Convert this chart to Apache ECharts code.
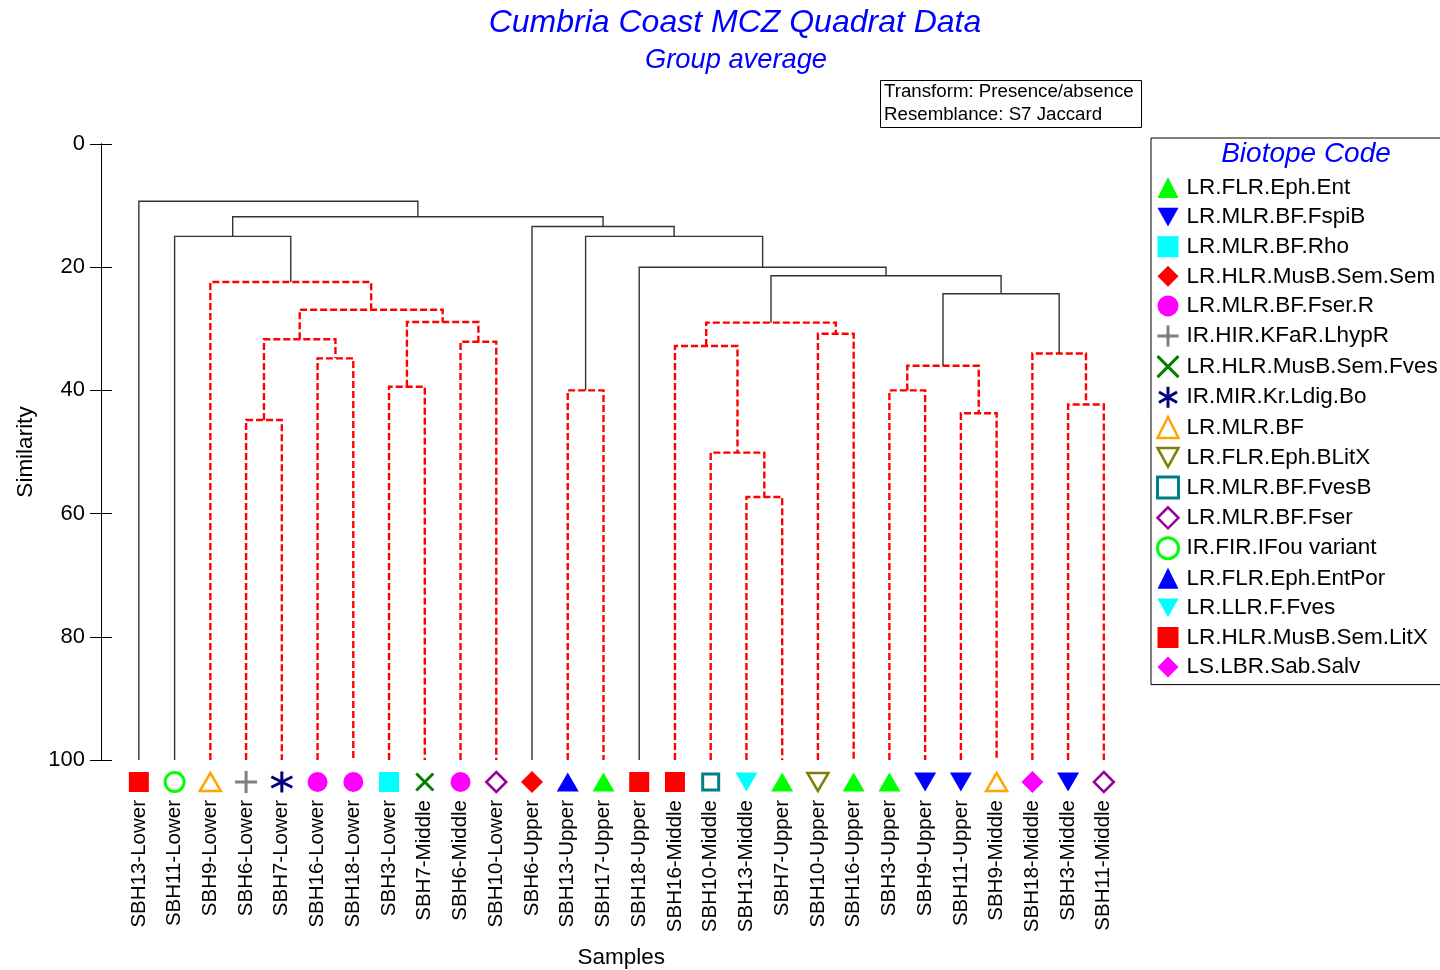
<!DOCTYPE html>
<html>
<head>
<meta charset="utf-8">
<title>Cumbria Coast MCZ Quadrat Data</title>
<script src="https://cdn.jsdelivr.net/npm/echarts@6/dist/echarts.min.js"></script>
<style>
  html, body { margin: 0; padding: 0; background: #fff; }
  #chart { width: 1440px; height: 970px; }
</style>
</head>
<body>
<div id="chart"></div>
<script>
  // samples in dendrogram order, left to right
  const samples = [
    'SBH13-Lower', 'SBH11-Lower', 'SBH9-Lower', 'SBH6-Lower', 'SBH7-Lower', 'SBH16-Lower', 'SBH18-Lower',
    'SBH3-Lower', 'SBH7-Middle', 'SBH6-Middle', 'SBH10-Lower', 'SBH6-Upper', 'SBH13-Upper', 'SBH17-Upper',
    'SBH18-Upper', 'SBH16-Middle', 'SBH10-Middle', 'SBH13-Middle', 'SBH7-Upper', 'SBH10-Upper', 'SBH16-Upper',
    'SBH3-Upper', 'SBH9-Upper', 'SBH11-Upper', 'SBH9-Middle', 'SBH18-Middle', 'SBH3-Middle', 'SBH11-Middle',
  ];

  // biotope code of each sample (same order as samples)
  const sampleBiotope = [
    'LR.HLR.MusB.Sem.LitX', 'IR.FIR.IFou variant', 'LR.MLR.BF', 'IR.HIR.KFaR.LhypR', 'IR.MIR.Kr.Ldig.Bo',
    'LR.MLR.BF.Fser.R', 'LR.MLR.BF.Fser.R', 'LR.MLR.BF.Rho', 'LR.HLR.MusB.Sem.Fves', 'LR.MLR.BF.Fser.R',
    'LR.MLR.BF.Fser', 'LR.HLR.MusB.Sem.Sem', 'LR.FLR.Eph.EntPor', 'LR.FLR.Eph.Ent', 'LR.HLR.MusB.Sem.LitX',
    'LR.HLR.MusB.Sem.LitX', 'LR.MLR.BF.FvesB', 'LR.LLR.F.Fves', 'LR.FLR.Eph.Ent', 'LR.FLR.Eph.BLitX',
    'LR.FLR.Eph.Ent', 'LR.FLR.Eph.Ent', 'LR.MLR.BF.FspiB', 'LR.MLR.BF.FspiB', 'LR.MLR.BF',
    'LS.LBR.Sab.Salv', 'LR.MLR.BF.FspiB', 'LR.MLR.BF.Fser',
  ];

  // legend order
  const biotopes = [
    'LR.FLR.Eph.Ent', 'LR.MLR.BF.FspiB', 'LR.MLR.BF.Rho', 'LR.HLR.MusB.Sem.Sem', 'LR.MLR.BF.Fser.R',
    'IR.HIR.KFaR.LhypR', 'LR.HLR.MusB.Sem.Fves', 'IR.MIR.Kr.Ldig.Bo', 'LR.MLR.BF', 'LR.FLR.Eph.BLitX',
    'LR.MLR.BF.FvesB', 'LR.MLR.BF.Fser', 'IR.FIR.IFou variant', 'LR.FLR.Eph.EntPor', 'LR.LLR.F.Fves',
    'LR.HLR.MusB.Sem.LitX', 'LS.LBR.Sab.Salv',
  ];

  // group average merges, bottom-up. ids 0..27 are samples, merge k gets id 28 + k
  const mergeA = [3, 5, 28, 7, 9, 31, 30, 2, 1, 12, 17, 16, 15, 19, 40, 21, 23, 43, 26, 25, 45, 42, 14, 37, 11, 36, 0];
  const mergeB = [4, 6, 29, 8, 10, 32, 33, 34, 35, 13, 18, 38, 39, 20, 41, 22, 24, 44, 27, 46, 47, 48, 49, 50, 51, 52, 53];
  const mergeSim = [44.8, 34.8, 31.7, 39.4, 32.1, 28.9, 26.9, 22.4, 15.0, 40.0, 57.3, 50.1, 32.8, 30.8, 29.0,
    40.0, 43.7, 36.0, 42.3, 34.0, 24.3, 21.4, 20.0, 15.0, 13.4, 11.8, 9.3];
  // SIMPROF result: 1 = significant (solid black), 0 = not significant (red dashed)
  const mergeSig = [0, 0, 0, 0, 0, 0, 0, 0, 1, 0, 0, 0, 0, 0, 0, 0, 0, 0, 0, 0, 1, 1, 1, 1, 1, 1, 1];

  const FONT = '"Liberation Sans", Arial, sans-serif';
  const downTri = 'path://M0,0 L10,0 L5,9 Z';

  // marker style per biotope
  const biotopeStyle = {
    'LR.FLR.Eph.Ent': { symbol: 'triangle', color: '#00ff00', size: [22, 19] },
    'LR.MLR.BF.FspiB': { symbol: downTri, color: '#0000ff', size: [22, 19] },
    'LR.MLR.BF.Rho': { symbol: 'rect', color: '#00ffff', size: 20 },
    'LR.HLR.MusB.Sem.Sem': { symbol: 'diamond', color: '#ff0000', size: 22 },
    'LR.MLR.BF.Fser.R': { symbol: 'circle', color: '#ff00ff', size: 20 },
    'IR.HIR.KFaR.LhypR': { symbol: 'path://M0,5 L10,5 M5,0 L5,10', color: '#808080', size: 22, open: true, line: 3 },
    'LR.HLR.MusB.Sem.Fves': { symbol: 'path://M0,0 L10,10 M0,10 L10,0', color: '#008000', size: 17, open: true, line: 3 },
    'IR.MIR.Kr.Ldig.Bo': { symbol: 'path://M5,0 L5,10 M0.7,2.5 L9.3,7.5 M0.7,7.5 L9.3,2.5', color: '#000080', size: 21, open: true, line: 3 },
    'LR.MLR.BF': { symbol: 'triangle', color: '#ffa500', size: [21, 18], open: true, line: 2.5 },
    'LR.FLR.Eph.BLitX': { symbol: downTri, color: '#808000', size: [21, 18], open: true, line: 2.5 },
    'LR.MLR.BF.FvesB': { symbol: 'rect', color: '#008080', size: 16, open: true, line: 3 },
    'LR.MLR.BF.Fser': { symbol: 'diamond', color: '#990099', size: 20, open: true, line: 2.5 },
    'IR.FIR.IFou variant': { symbol: 'circle', color: '#00ff00', size: 19, open: true, line: 3 },
    'LR.FLR.Eph.EntPor': { symbol: 'triangle', color: '#0000ff', size: [22, 19] },
    'LR.LLR.F.Fves': { symbol: downTri, color: '#00ffff', size: [22, 19] },
    'LR.HLR.MusB.Sem.LitX': { symbol: 'rect', color: '#ff0000', size: 20 },
    'LS.LBR.Sab.Salv': { symbol: 'diamond', color: '#ff00ff', size: 22 },
  };

  // dendrogram links from the merge table
  const nodeX = samples.map((s, i) => i);
  const nodeH = samples.map(() => 100);
  const solidLinks = [];
  const dashedLinks = [];
  mergeSim.forEach((h, k) => {
    const a = mergeA[k];
    const b = mergeB[k];
    const link = { coords: [[nodeX[a], nodeH[a]], [nodeX[a], h], [nodeX[b], h], [nodeX[b], nodeH[b]]] };
    (mergeSig[k] ? solidLinks : dashedLinks).push(link);
    nodeX.push((nodeX[a] + nodeX[b]) / 2);
    nodeH.push(h);
  });

  const markerSeries = biotopes.map((name) => {
    const st = biotopeStyle[name];
    return {
      type: 'scatter',
      name: name,
      xAxisIndex: 1,
      yAxisIndex: 0,
      clip: false,
      silent: true,
      symbol: st.symbol,
      symbolSize: st.size,
      symbolOffset: [0, 22],
      itemStyle: st.open
        ? { color: '#fff', borderColor: st.color, borderWidth: st.line, opacity: 1 }
        : { color: st.color, opacity: 1 },
      data: samples.map((s, i) => (sampleBiotope[i] === name ? [i, 100] : null)).filter(Boolean),
      z: 5,
    };
  });

  const legendData = biotopes.map((name) => {
    const st = biotopeStyle[name];
    return st.open
      ? { name: name, itemStyle: { borderWidth: st.line, borderColor: st.color, color: '#fff' } }
      : { name: name, itemStyle: { borderWidth: 0, color: st.color } };
  });

  const yAxisBase = {
    type: 'value',
    inverse: true,
    min: 0,
    max: 100,
    interval: 20,
    position: 'left',
    offset: 20,
    splitLine: { show: false },
    axisLine: { show: true, onZero: false, lineStyle: { color: '#000', width: 1 } },
  };

  const option = {
    animation: false,
    backgroundColor: '#fff',
    textStyle: { fontFamily: FONT },
    grid: { left: 121, right: 318.3, top: 144, bottom: 210, outerBoundsMode: 'none' },
    xAxis: [
      {
        type: 'category',
        data: samples,
        position: 'bottom',
        axisLine: { show: false },
        axisTick: { show: false },
        splitLine: { show: false },
        axisLabel: { rotate: 90, interval: 0, margin: 40, fontSize: 20.5, color: '#000', fontFamily: FONT },
        name: 'Samples',
        nameLocation: 'middle',
        nameGap: 186,
        nameTextStyle: { fontSize: 22.5, color: '#000', fontFamily: FONT },
      },
      { type: 'value', min: -0.5, max: 27.5, show: false },
    ],
    yAxis: [
      Object.assign({}, yAxisBase, {
        axisTick: { show: true, length: 11, lineStyle: { color: '#000' } },
        axisLabel: { margin: 16, fontSize: 22, color: '#000', fontFamily: FONT },
        name: 'Similarity',
        nameLocation: 'middle',
        nameRotate: 90,
        nameGap: 62,
        nameTextStyle: { fontSize: 22.5, color: '#000', fontFamily: FONT },
      }),
      Object.assign({}, yAxisBase, {
        axisTick: { show: true, inside: true, length: 11, lineStyle: { color: '#000' } },
        axisLabel: { show: false },
      }),
    ],
    legend: {
      orient: 'vertical',
      left: 1151,
      top: 138,
      padding: [38, 12, 6, 5],
      borderColor: '#000',
      borderWidth: 1,
      itemWidth: 21,
      itemHeight: 21,
      itemGap: 6.6,
      selectedMode: false,
      data: legendData,
      textStyle: { color: '#000', fontSize: 22.5, lineHeight: 22, fontFamily: FONT, padding: [0, 0, 0, 3] },
    },
    graphic: [
      {
        type: 'text', x: 735, y: 23,
        style: { text: 'Cumbria Coast MCZ Quadrat Data', font: 'italic 32px ' + FONT, fill: '#0000ff',
          textAlign: 'center', textVerticalAlign: 'middle', align: 'center', verticalAlign: 'middle' },
      },
      {
        type: 'text', x: 736, y: 60,
        style: { text: 'Group average', font: 'italic 27.3px ' + FONT, fill: '#0000ff',
          textAlign: 'center', textVerticalAlign: 'middle', align: 'center', verticalAlign: 'middle' },
      },
      {
        type: 'rect', shape: { x: 880.5, y: 80.5, width: 261, height: 47 },
        style: { fill: '#fff', stroke: '#000', lineWidth: 1 },
      },
      {
        type: 'text', x: 884, y: 92,
        style: { text: 'Transform: Presence/absence', font: '18.7px ' + FONT, fill: '#000',
          textVerticalAlign: 'middle', verticalAlign: 'middle' },
      },
      {
        type: 'text', x: 884, y: 115,
        style: { text: 'Resemblance: S7 Jaccard', font: '18.7px ' + FONT, fill: '#000',
          textVerticalAlign: 'middle', verticalAlign: 'middle' },
      },
      {
        type: 'text', x: 1306, y: 154, z: 10,
        style: { text: 'Biotope Code', font: 'italic 28px ' + FONT, fill: '#0000ff',
          textAlign: 'center', textVerticalAlign: 'middle', align: 'center', verticalAlign: 'middle' },
      },
    ],
    series: [
      {
        type: 'lines',
        coordinateSystem: 'cartesian2d',
        xAxisIndex: 1,
        yAxisIndex: 0,
        polyline: true,
        silent: true,
        data: dashedLinks,
        lineStyle: { color: '#ff0000', width: 2.4, type: [7, 3], opacity: 1, curveness: 0 },
        z: 3,
      },
      {
        type: 'lines',
        coordinateSystem: 'cartesian2d',
        xAxisIndex: 1,
        yAxisIndex: 0,
        polyline: true,
        silent: true,
        data: solidLinks,
        lineStyle: { color: '#333', width: 1.4, type: 'solid', opacity: 1, curveness: 0 },
        z: 3,
      },
    ].concat(markerSeries),
  };

  const chart = echarts.init(document.getElementById('chart'));
  chart.setOption(option);
  window.addEventListener('resize', chart.resize);
</script>
</body>
</html>
